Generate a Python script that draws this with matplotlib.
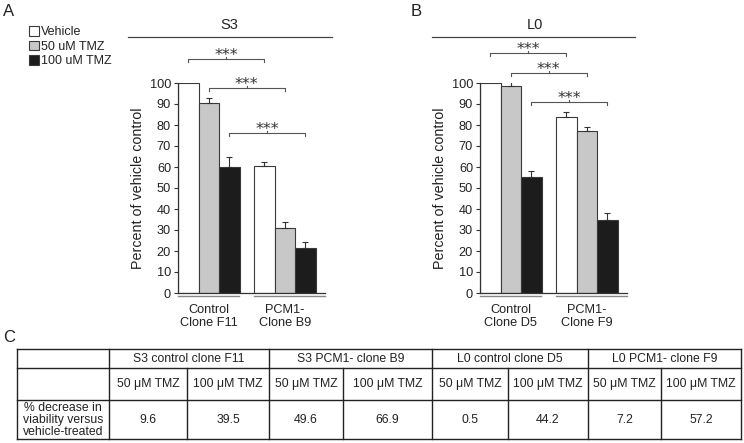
import matplotlib
matplotlib.use('Agg')
import matplotlib.pyplot as plt

plt.rcParams['font.family'] = ['Liberation Sans', 'DejaVu Sans']

# data
treatments = ['Vehicle', '50 uM TMZ', '100 uM TMZ']
bar_colors = ['white', '#c8c8c8', '#1c1c1c']

s3_groups = ['Control\nClone F11', 'PCM1-\nClone B9']
s3_mean = [[100, 90.5, 60], [60.5, 31, 21.5]]
s3_err = [[0, 2.5, 5], [1.8, 3, 3]]
s3_sig_y = [111.4, 97.6, 76.2]

l0_groups = ['Control\nClone D5', 'PCM1-\nClone F9']
l0_mean = [[100, 98.6, 55.2], [84, 77, 35]]
l0_err = [[0, 2.8, 3], [2, 2, 3]]
l0_sig_y = [114.3, 104.8, 91]

table_groups = ['S3 control clone F11', 'S3 PCM1- clone B9', 'L0 control clone D5', 'L0 PCM1- clone F9']
doses = ['50 μM TMZ', '100 μM TMZ']
decrease = [9.6, 39.5, 49.6, 66.9, 0.5, 44.2, 7.2, 57.2]
row_label = '% decrease in\nviability versus\nvehicle-treated'

W, H = 744, 443
fig = plt.figure(figsize=(W / 100, H / 100), dpi=100)

# overlay in pixel coords for layout bits
ov = fig.add_axes([0, 0, 1, 1])
ov.set_xlim(0, W)
ov.set_ylim(H, 0)
ov.axis('off')

txt = '#222222'
group_off = 3.71


def panel(left_px, title, title_x, line_x, letter_x, groups, mean, err, sig_y):
    ax = fig.add_axes([left_px / W, (H - 293) / H, 147 / W, 210 / H])
    handles = []
    for g in range(2):
        for t in range(3):
            x = g * group_off + t + 0.5
            b = ax.bar(x, mean[g][t], width=1.0, color=bar_colors[t],
                       edgecolor='#3a3a3a', linewidth=0.8, zorder=2)
            if g == 0:
                handles.append(b)
            if err[g][t] > 0:
                ax.errorbar(x, mean[g][t], yerr=[[0], [err[g][t]]], fmt='none',
                            ecolor='#333333', elinewidth=0.8, capsize=2,
                            capthick=0.8, zorder=3)
    ax.set_xlim(0, 7.17)
    ax.set_ylim(0, 100)
    ax.set_yticks(range(0, 101, 10))
    ax.tick_params(axis='y', length=3, width=0.8, labelsize=9.2, pad=2,
                   colors='#333333', labelcolor=txt)
    ax.set_xticks([1.5, group_off + 1.5])
    ax.set_xticklabels(groups, fontsize=9.2, color=txt, linespacing=1.05)
    ax.tick_params(axis='x', length=0, pad=8)
    for s in ['top', 'right']:
        ax.spines[s].set_visible(False)
    for s in ['left', 'bottom']:
        ax.spines[s].set_color('#333333')
        ax.spines[s].set_linewidth(0.9)
    tr = ax.get_xaxis_transform()
    ax.plot([0, 2.98], [-0.013, -0.013], transform=tr, color='#888888',
            lw=1, clip_on=False)
    ax.plot([group_off, 7.17], [-0.013, -0.013], transform=tr, color='#888888',
            lw=1, clip_on=False)
    ax.text(-40 / 147, 0.5, 'Percent of vehicle control', rotation=90,
            transform=ax.transAxes, ha='center', va='center', fontsize=10.3,
            color=txt)
    # significance brackets
    for t in range(3):
        x1 = t + 0.5
        x2 = group_off + t + 0.5
        y = sig_y[t]
        ax.plot([x1, x1, x2, x2], [y - 1.4, y, y, y - 1.4], color='#555555',
                lw=0.8, clip_on=False)
        xm = (x1 + x2) / 2
        ax.plot([xm, xm], [y, y + 0.9], color='#555555', lw=0.8, clip_on=False)
        ax.text(xm, y + 1.5, '***', ha='center', va='center', fontsize=11.5,
                color='#333333', family='DejaVu Sans')
    ov.text(title_x, 25, title, ha='center', va='center', fontsize=10.5, color=txt)
    ov.plot(line_x, [37, 37], color='#444444', lw=0.9)
    ov.text(letter_x, 11, 'A' if title == 'S3' else 'B', ha='left',
            va='center', fontsize=12, color=txt)
    return ax, handles


axA, hA = panel(178, 'S3', 229, [128, 332], 3, s3_groups, s3_mean, s3_err, s3_sig_y)
axB, hB = panel(480, 'L0', 535, [432, 635], 411, l0_groups, l0_mean, l0_err, l0_sig_y)

fig.legend(hA, treatments, loc='upper left', bbox_to_anchor=(29 / W, 1 - 26 / H),
           frameon=False, fontsize=9, handlelength=0.8, handleheight=0.8,
           handletextpad=0.15, labelspacing=0.2, borderpad=0, borderaxespad=0,
           labelcolor=txt)

# table C
ov.text(3, 338, 'C', ha='left', va='center', fontsize=12, color=txt)
xs = [17, 109, 187, 269, 343, 432, 508, 588, 661, 741]
ys = [349, 368, 400, 439]
lc = '#222222'
for y in ys:
    ov.plot([xs[0], xs[-1]], [y, y], color=lc, lw=1.0)
for i, x in enumerate(xs):
    top = ys[1] if i in (2, 4, 6, 8) else ys[0]
    ov.plot([x, x], [top, ys[-1]], color=lc, lw=1.0)
for k, name in enumerate(table_groups):
    xa, xb = xs[1 + 2 * k], xs[3 + 2 * k]
    ov.text((xa + xb) / 2, (ys[0] + ys[1]) / 2 + 0.5, name, ha='center',
            va='center', fontsize=8.8, color=txt)
for j in range(8):
    xc = (xs[1 + j] + xs[2 + j]) / 2
    ov.text(xc, (ys[1] + ys[2]) / 2 + 0.5, doses[j % 2], ha='center',
            va='center', fontsize=8.8, color=txt)
    ov.text(xc, (ys[2] + ys[3]) / 2 + 0.5, f'{decrease[j]:.1f}', ha='center',
            va='center', fontsize=8.8, color=txt)
ov.text((xs[0] + xs[1]) / 2, (ys[2] + ys[3]) / 2 + 0.5, row_label,
        ha='center', va='center', fontsize=8.8, color=txt, linespacing=0.95)

fig.savefig('out.png', dpi=100)
